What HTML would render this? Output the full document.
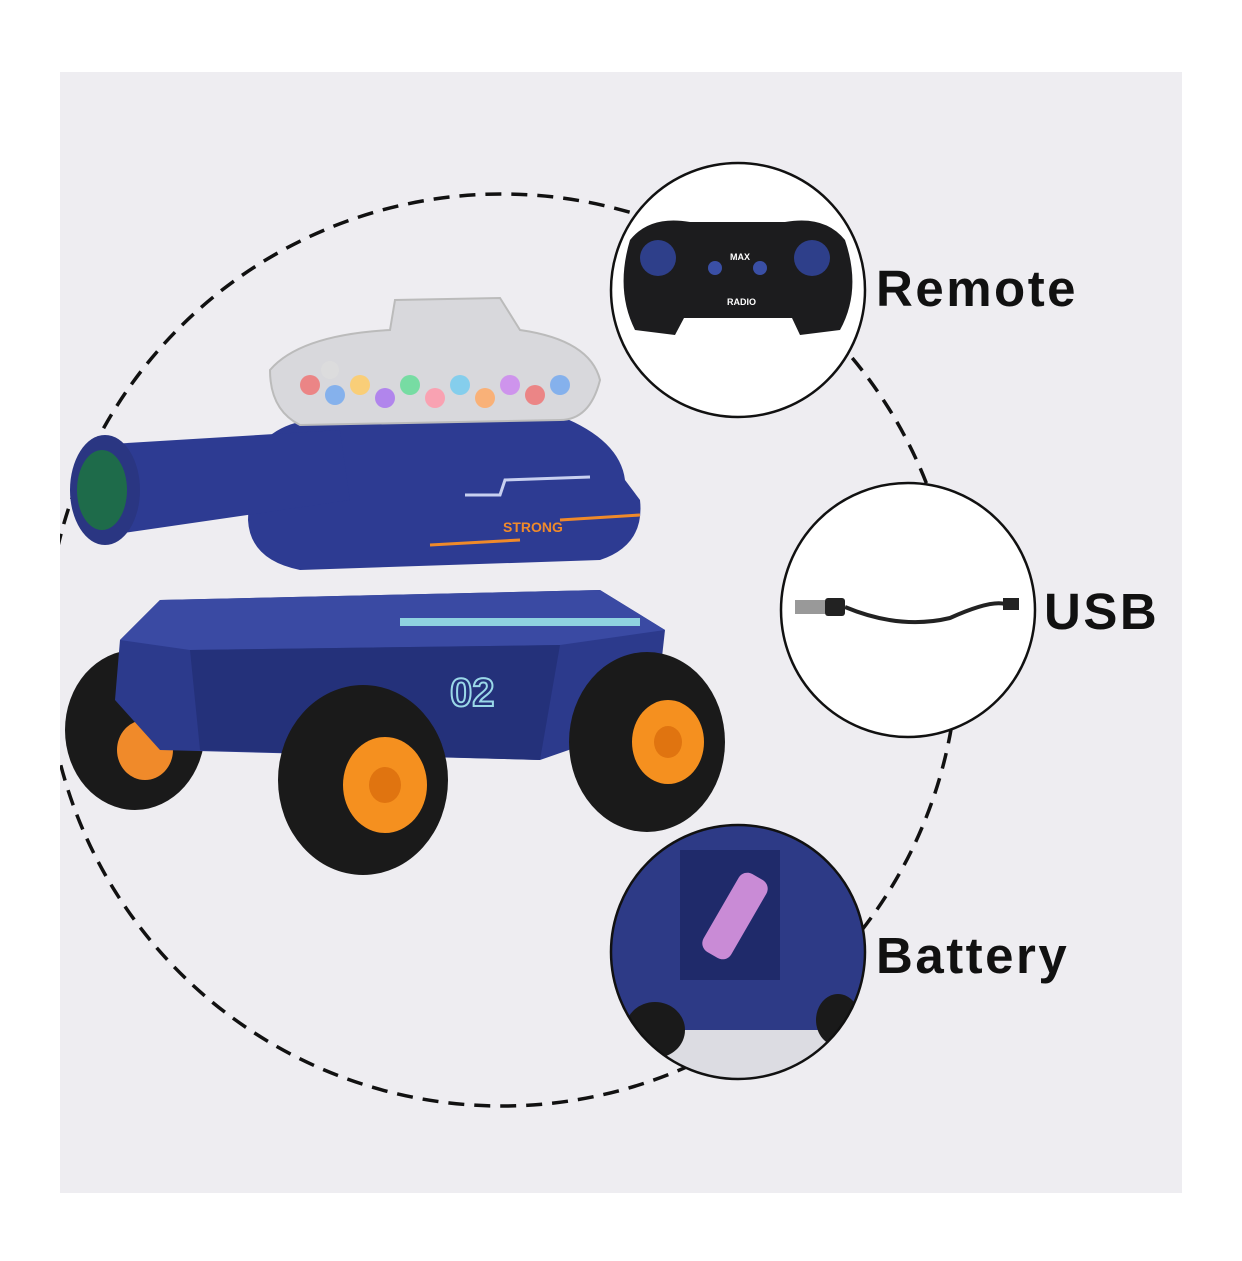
<!DOCTYPE html>
<html><head><meta charset="utf-8"><style>
html,body{margin:0;padding:0;background:#fff;}
body{width:1242px;height:1261px;position:relative;overflow:hidden;font-family:"Liberation Sans",sans-serif;}
.lbl{position:absolute;font-weight:bold;font-size:51px;color:#111;line-height:1;letter-spacing:2.5px;}
</style></head><body>
<svg width="1242" height="1261" style="position:absolute;left:0;top:0">
<defs>
<clipPath id="bg"><rect x="60" y="72" width="1122" height="1121"/></clipPath>
<clipPath id="c1"><circle cx="738" cy="290" r="127"/></clipPath>
<clipPath id="c3"><circle cx="738" cy="952" r="127"/></clipPath>
</defs>
<rect x="60" y="72" width="1122" height="1121" fill="#eeedf1"/>
<circle cx="502" cy="650" r="456" fill="none" stroke="#111" stroke-width="3.5" stroke-dasharray="16 10" clip-path="url(#bg)"/>
<g>
<ellipse cx="135" cy="730" rx="70" ry="80" fill="#1a1a1a"/>
<ellipse cx="145" cy="750" rx="28" ry="30" fill="#f08a2a"/>
<path d="M120 640 L160 600 L600 590 L665 630 L655 720 L540 760 L160 750 L115 700 Z" fill="#2c3a8c"/>
<path d="M160 600 L600 590 L665 630 L560 645 L190 650 L120 640 Z" fill="#3a4aa3"/>
<path d="M190 650 L560 645 L540 760 L200 750 Z" fill="#24317a"/>
<rect x="400" y="618" width="240" height="8" fill="#8fd2e0"/>
<text x="450" y="706" font-size="40" fill="none" stroke="#9ad8e8" stroke-width="2" font-family="Liberation Sans" font-weight="bold">02</text>
<path d="M250 470 Q260 420 330 418 L560 416 Q620 440 625 480 L640 500 Q645 545 600 560 L300 570 Q250 560 248 520 Z" fill="#2d3b92"/>
<path d="M95 445 L340 430 L350 500 L110 535 Z" fill="#2d3b92"/>
<ellipse cx="105" cy="490" rx="35" ry="55" fill="#2a3682"/>
<ellipse cx="102" cy="490" rx="25" ry="40" fill="#1e6b4a"/>
<path d="M430 545 L520 540 M560 520 L640 515" stroke="#f08a2a" stroke-width="3"/>
<text x="503" y="532" font-size="14" fill="#f08a2a" font-weight="bold" font-family="Liberation Sans">STRONG</text>
<path d="M465 495 L500 495 L505 480 L590 477" stroke="#c8d0f0" stroke-width="3" fill="none"/>
<path d="M270 370 Q300 335 390 330 L395 300 L500 298 L520 330 Q590 340 600 380 Q590 420 560 420 L300 425 Q270 410 270 370 Z" fill="#d8d8dc" stroke="#bbb" stroke-width="2"/>
<g fill-opacity="0.85">
<circle cx="310" cy="385" r="10" fill="#e77"/><circle cx="335" cy="395" r="10" fill="#7ae"/><circle cx="360" cy="385" r="10" fill="#fc6"/>
<circle cx="385" cy="398" r="10" fill="#a7e"/><circle cx="410" cy="385" r="10" fill="#6d9"/><circle cx="435" cy="398" r="10" fill="#f9a"/>
<circle cx="460" cy="385" r="10" fill="#7ce"/><circle cx="485" cy="398" r="10" fill="#fa6"/><circle cx="510" cy="385" r="10" fill="#c8e"/>
<circle cx="535" cy="395" r="10" fill="#e77"/><circle cx="560" cy="385" r="10" fill="#7ae"/><circle cx="330" cy="370" r="9" fill="#ddd"/>
</g>
<ellipse cx="363" cy="780" rx="85" ry="95" fill="#1a1a1a"/>
<ellipse cx="385" cy="785" rx="42" ry="48" fill="#f5901f"/>
<ellipse cx="385" cy="785" rx="16" ry="18" fill="#e07410"/>
<ellipse cx="647" cy="742" rx="78" ry="90" fill="#1a1a1a"/>
<ellipse cx="668" cy="742" rx="36" ry="42" fill="#f5901f"/>
<ellipse cx="668" cy="742" rx="14" ry="16" fill="#e07410"/>
</g>
<circle cx="738" cy="290" r="127" fill="#fff"/>
<g clip-path="url(#c1)">
<path d="M630 240 Q650 215 690 222 L785 222 Q825 215 845 240 Q862 290 840 330 L800 335 L792 318 L684 318 L675 335 L635 330 Q615 290 630 240 Z" fill="#1c1c1e"/>
<circle cx="658" cy="258" r="18" fill="#2e3f8a"/><circle cx="812" cy="258" r="18" fill="#2e3f8a"/>
<circle cx="715" cy="268" r="7" fill="#3a4fa5"/><circle cx="760" cy="268" r="7" fill="#3a4fa5"/>
<text x="730" y="260" font-size="9" fill="#fff" font-weight="bold">MAX</text>
<text x="727" y="305" font-size="9" fill="#fff" font-weight="bold">RADIO</text>
</g>
<circle cx="738" cy="290" r="127" fill="none" stroke="#111" stroke-width="2.5"/>
<circle cx="908" cy="610" r="127" fill="#fff" stroke="#111" stroke-width="2.5"/>
<rect x="795" y="600" width="30" height="14" fill="#999"/>
<rect x="825" y="598" width="20" height="18" rx="3" fill="#222"/>
<path d="M845 607 Q900 630 950 618 Q990 600 1005 604" stroke="#222" stroke-width="4" fill="none"/>
<rect x="1003" y="598" width="16" height="12" fill="#222"/>
<circle cx="738" cy="952" r="127" fill="#2d3a86"/>
<g clip-path="url(#c3)">
<rect x="610" y="825" width="260" height="260" fill="#2d3a86"/>
<rect x="680" y="850" width="100" height="130" fill="#1f2a6a"/>
<rect x="690" y="900" width="90" height="32" rx="10" transform="rotate(-60 735 916)" fill="#c98bd6"/>
<rect x="610" y="1030" width="260" height="55" fill="#dcdce2"/>
<ellipse cx="655" cy="1030" rx="30" ry="28" fill="#1a1a1a"/>
<ellipse cx="838" cy="1020" rx="22" ry="26" fill="#1a1a1a"/>
</g>
<circle cx="738" cy="952" r="127" fill="none" stroke="#111" stroke-width="2.5"/>
</svg>
<div class="lbl" style="left:876px;top:263px">Remote</div>
<div class="lbl" style="left:1044px;top:586px">USB</div>
<div class="lbl" style="left:876px;top:930px">Battery</div>
</body></html>
